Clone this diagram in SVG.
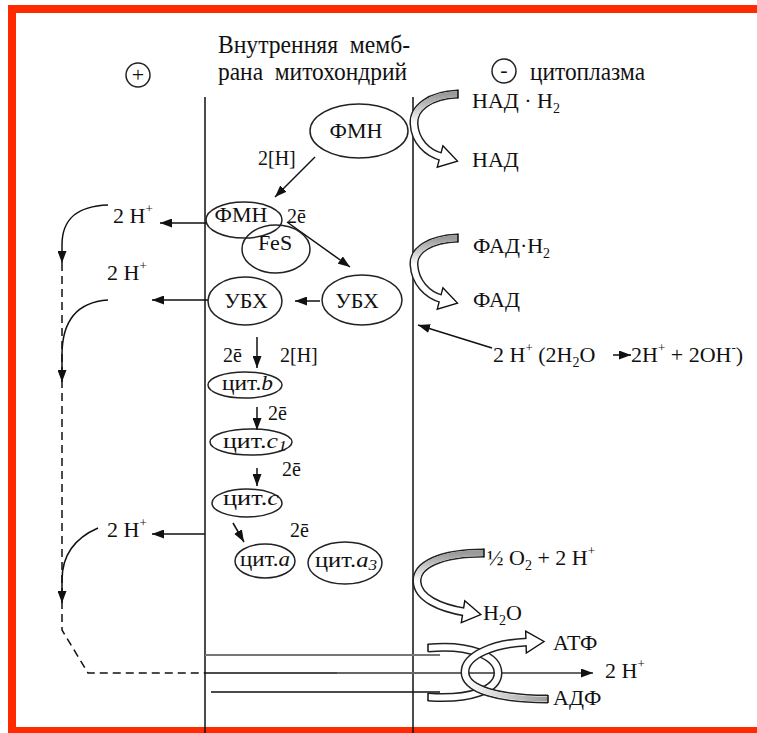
<svg xmlns="http://www.w3.org/2000/svg" width="757" height="733" viewBox="0 0 757 733">
<style>
.t{font-family:"Liberation Serif","DejaVu Serif","Times New Roman",serif;fill:#111;font-size:22px}
.h{font-size:25px}
.s{font-size:20px}
.c{font-size:20px}
.m{text-anchor:middle}
.ln{stroke:#111;stroke-width:1.5;fill:none}
.ell{fill:none;stroke:#222;stroke-width:1.5}
.bo{fill:none;stroke:#222;stroke-width:9}
.bi{fill:none;stroke:#fff;stroke-width:6}
.sup{font-size:13px}
.sub{font-size:14px}
</style>
<defs>
<marker id="ah" markerUnits="userSpaceOnUse" markerWidth="12" markerHeight="9" viewBox="0 0 12 9" refX="12" refY="4.5" orient="auto">
<path d="M0,0 L12,4.5 L0,9 z" fill="#111"/>
</marker>
<marker id="oh" markerUnits="userSpaceOnUse" markerWidth="22" markerHeight="26" viewBox="0 0 22 26" refX="3" refY="13" orient="auto">
<polygon points="1,2 19,13 1,24" fill="#fff" stroke="#111" stroke-width="1.4"/>
</marker>
<linearGradient id="gv" x1="0" y1="0" x2="0" y2="1">
<stop offset="0" stop-color="#999"/><stop offset="1" stop-color="#fff"/>
</linearGradient>
<linearGradient id="gh" x1="1" y1="0" x2="0" y2="0">
<stop offset="0" stop-color="#999"/><stop offset="1" stop-color="#fff"/>
</linearGradient>
</defs>
<rect width="757" height="733" fill="#fff"/>
<path d="M757 9 H12 V731 H757" fill="none" stroke="#ff2a00" stroke-width="8"/>

<g id="labels">
<text class="t h" x="218" y="53" textLength="192" lengthAdjust="spacingAndGlyphs" xml:space="preserve">Внутренняя  мемб-</text>
<text class="t h" x="218" y="80" textLength="189" lengthAdjust="spacingAndGlyphs" xml:space="preserve">рана  митохондрий</text>
<text class="t h" x="530" y="80" textLength="115" lengthAdjust="spacingAndGlyphs">цитоплазма</text>
<circle cx="138" cy="75" r="12" class="ell"/>
<text class="t m" x="138" y="82">+</text>
<circle cx="504" cy="71" r="12" class="ell"/>
<text class="t m" x="504" y="77">-</text>
</g>

<g id="membrane">
<line x1="205" y1="97" x2="205" y2="733" class="ln"/>
<line x1="413" y1="97" x2="413" y2="733" class="ln"/>
</g>

<g id="connectors">
<line x1="315" y1="157" x2="275" y2="197" class="ln" marker-end="url(#ah)"/>
<line x1="287" y1="222" x2="350" y2="267" class="ln" marker-end="url(#ah)"/>
<line x1="320" y1="301" x2="295" y2="301" class="ln" marker-end="url(#ah)"/>
<line x1="207" y1="223" x2="160" y2="223" class="ln" marker-end="url(#ah)"/>
<line x1="208" y1="300" x2="152" y2="300" class="ln" marker-end="url(#ah)"/>
<line x1="205" y1="534" x2="152" y2="534" class="ln" marker-end="url(#ah)"/>
<line x1="257" y1="337" x2="257" y2="368" class="ln" marker-end="url(#ah)"/>
<line x1="257" y1="407" x2="257" y2="430" class="ln" marker-end="url(#ah)"/>
<line x1="257" y1="468" x2="257" y2="486" class="ln" marker-end="url(#ah)"/>
<line x1="233" y1="523" x2="244" y2="542" class="ln" marker-end="url(#ah)"/>
<line x1="492" y1="348" x2="418" y2="325" class="ln" marker-end="url(#ah)"/>
<line x1="613" y1="355" x2="631" y2="355" class="ln" stroke-width="1.2" marker-end="url(#ah)"/>
<path d="M62 263 V630 L88 673 H205" class="ln" stroke-width="1.3" stroke-dasharray="8 5"/>
<path d="M108 205 C78 206 62 218 62 245 L62 263" class="ln" stroke-width="1.3" marker-end="url(#ah)"/>
<path d="M108 300 C78 302 62 320 62 355 L62 382" class="ln" stroke-width="1.3" marker-end="url(#ah)"/>
<path d="M98 528 C75 538 62 555 62 580 L62 603" class="ln" stroke-width="1.3" marker-end="url(#ah)"/>
<line x1="205" y1="655" x2="440" y2="655" stroke="#777" stroke-width="2.2"/>
<line x1="337" y1="673" x2="593" y2="673" stroke="#666" stroke-width="2" marker-end="url(#ah)"/>
<line x1="205" y1="673" x2="337" y2="673" class="ln"/>
<line x1="211" y1="692" x2="440" y2="692" class="ln"/>
</g>

<g id="nadh-arrow">
<path d="M458 94 C430 95 413 108 414 124 C415 141 427 153 442 157" class="bo" marker-end="url(#oh)"/>
<path d="M458 94 C430 95 413 108 414 124 C415 141 427 153 442 157" class="bi"/>
<path d="M458 94 C430 95 413 108 414 124" fill="none" stroke="url(#gv)" stroke-width="6"/>
<line x1="458" y1="89.5" x2="458" y2="98.5" class="ln" stroke-width="1.3"/>
</g>
<g id="fadh-arrow">
<path d="M458 238 C430 239 413 250 414 265 C415 282 427 295 442 299" class="bo" marker-end="url(#oh)"/>
<path d="M458 238 C430 239 413 250 414 265 C415 282 427 295 442 299" class="bi"/>
<path d="M458 238 C430 239 413 250 414 265" fill="none" stroke="url(#gv)" stroke-width="6"/>
<line x1="458" y1="233.5" x2="458" y2="242.5" class="ln" stroke-width="1.3"/>
</g>
<g id="o2-arrow">
<path d="M484 553 C440 553 416 565 417 582 C418 598 440 608 465 612" class="bo" marker-end="url(#oh)"/>
<path d="M484 553 C440 553 416 565 417 582 C418 598 440 608 465 612" class="bi"/>
<path d="M484 553 C440 553 416 565 417 582" fill="none" stroke="url(#gv)" stroke-width="6"/>
<line x1="484" y1="548.5" x2="484" y2="557.5" class="ln" stroke-width="1.3"/>
</g>
<g id="atp-synthase">
<path d="M428 648 C470 644 498 656 498 673 C498 690 470 700 428 697" class="bo" stroke-width="8"/>
<path d="M428 648 C470 644 498 656 498 673 C498 690 470 700 428 697" class="bi" stroke-width="5"/>
<line x1="428" y1="644" x2="428" y2="652" class="ln" stroke-width="1.3"/>
<line x1="428" y1="693" x2="428" y2="701" class="ln" stroke-width="1.3"/>
<path d="M548 699 C500 699 465 690 465 672 C465 655 495 643 528 642" class="bo" stroke-width="8" marker-end="url(#oh)"/>
<path d="M548 699 C500 699 465 690 465 672 C465 655 495 643 528 642" class="bi" stroke-width="5"/>
<path d="M548 699 C500 699 465 690 465 672" fill="none" stroke="url(#gh)" stroke-width="5"/>
<line x1="548" y1="695" x2="548" y2="703" class="ln" stroke-width="1.3"/>
</g>

<g id="n-fmn1"><ellipse cx="359" cy="131" rx="49" ry="27" class="ell"/><text class="t m" x="356" y="138">ФМН</text></g>
<text class="t s" x="258" y="165">2[H]</text>
<g id="n-fmn2"><ellipse cx="244" cy="220" rx="38" ry="18" class="ell"/><text class="t m" x="241" y="222">ФМН</text></g>
<text class="t s" x="287" y="223">2ē</text>
<g id="n-fes"><ellipse cx="276" cy="249" rx="34" ry="24" class="ell"/><text class="t m" x="275" y="250">FeS</text></g>
<g id="n-ubx1"><ellipse cx="245" cy="301" rx="37" ry="24" class="ell"/><text class="t m" x="246" y="308">УБХ</text></g>
<g id="n-ubx2"><ellipse cx="362" cy="300" rx="40" ry="25" class="ell"/><text class="t m" x="357" y="308">УБХ</text></g>
<text class="t s" x="223" y="362">2ē</text>
<text class="t s" x="280" y="362">2[H]</text>
<g id="n-cytb"><ellipse cx="245" cy="385" rx="37" ry="13" class="ell"/><text class="t c" x="222" y="390" textLength="51" lengthAdjust="spacingAndGlyphs">цит.<tspan font-style="italic">b</tspan></text></g>
<text class="t s" x="268" y="420">2ē</text>
<g id="n-cytc1"><ellipse cx="251" cy="442" rx="41" ry="13" class="ell"/><text class="t c" x="223" y="448" textLength="64" lengthAdjust="spacingAndGlyphs">цит.<tspan font-style="italic">c</tspan><tspan font-style="italic" font-size="14" dy="3">1</tspan></text></g>
<text class="t s" x="282" y="476">2ē</text>
<g id="n-cytc"><ellipse cx="247" cy="503" rx="35" ry="14" class="ell"/><text class="t c" x="223" y="505" textLength="56" lengthAdjust="spacingAndGlyphs">цит.<tspan font-style="italic">c</tspan></text></g>
<text class="t s" x="290" y="537">2ē</text>
<g id="n-cyta"><ellipse cx="265" cy="561" rx="30" ry="17" class="ell"/><text class="t c" x="240" y="566" textLength="50" lengthAdjust="spacingAndGlyphs">цит.<tspan font-style="italic">a</tspan></text></g>
<g id="n-cyta3"><ellipse cx="345" cy="563" rx="37" ry="21" class="ell"/><text class="t c" x="315" y="567" textLength="62" lengthAdjust="spacingAndGlyphs">цит.<tspan font-style="italic">a</tspan><tspan font-style="italic" font-size="14" dy="3">3</tspan></text></g>

<g id="side-texts">
<text class="t" x="113" y="223" xml:space="preserve">2 H<tspan class="sup" dy="-10">+</tspan></text>
<text class="t" x="107" y="280" xml:space="preserve">2 H<tspan class="sup" dy="-10">+</tspan></text>
<text class="t" x="107" y="537" xml:space="preserve">2 H<tspan class="sup" dy="-10">+</tspan></text>
<text class="t" x="472" y="108" xml:space="preserve">НАД · H<tspan class="sub" dy="5">2</tspan></text>
<text class="t" x="472" y="167">НАД</text>
<text class="t" x="473" y="253">ФАД·H<tspan class="sub" dy="5">2</tspan></text>
<text class="t" x="473" y="307">ФАД</text>
<text class="t" x="493" y="362" xml:space="preserve">2 H<tspan class="sup" dy="-10">+</tspan><tspan dy="10"> (2H</tspan><tspan class="sub" dy="5">2</tspan><tspan dy="-5">O</tspan></text>
<text class="t" x="631" y="362" xml:space="preserve">2H<tspan class="sup" dy="-10">+</tspan><tspan dy="10"> + 2OH</tspan><tspan class="sup" dy="-10">-</tspan><tspan dy="10">)</tspan></text>
<text class="t" x="487" y="565" xml:space="preserve">½ O<tspan class="sub" dy="5">2</tspan><tspan dy="-5"> + 2 H</tspan><tspan class="sup" dy="-10">+</tspan></text>
<text class="t" x="483" y="620">H<tspan class="sub" dy="5">2</tspan><tspan dy="-5">O</tspan></text>
<text class="t" x="553" y="650">АТФ</text>
<text class="t" x="605" y="678" xml:space="preserve">2 H<tspan class="sup" dy="-10">+</tspan></text>
<text class="t" x="553" y="705">АДФ</text>
</g>
</svg>
